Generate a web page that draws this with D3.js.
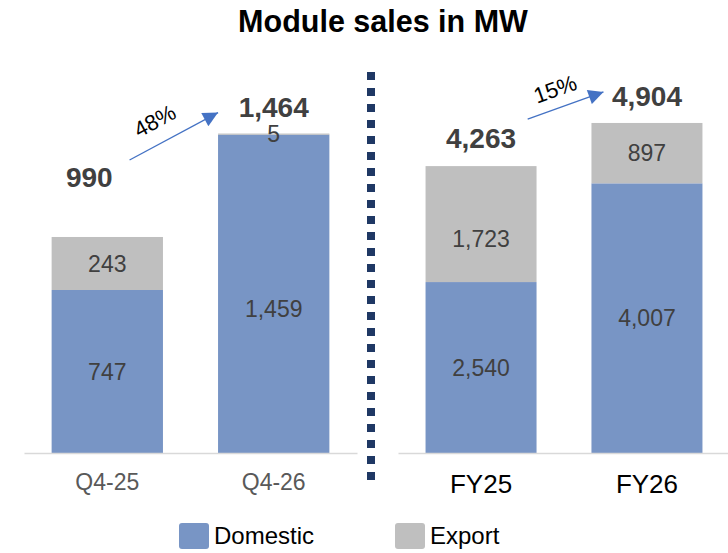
<!DOCTYPE html>
<html>
<head>
<meta charset="utf-8">
<script src="https://cdn.jsdelivr.net/npm/d3@7"></script>
<style>
  body { margin: 0; background: #fff; }
  svg { display: block; font-family: "Liberation Sans", Arial, sans-serif; }
</style>
</head>
<body>
<svg id="chart" width="728" height="553"></svg>
<script>
// data
var quarters = ['Q4-25', 'Q4-26'];
var quarterDomestic = [747, 1459];
var quarterExport = [243, 5];
var years = ['FY25', 'FY26'];
var yearDomestic = [2540, 4007];
var yearExport = [1723, 897];
var series = ['Domestic', 'Export'];
var growthLabels = ['48%', '15%'];

var colors = { Domestic: '#7895c5', Export: '#bfbfbf' };
var fmt = d3.format(',');

var svg = d3.select('#chart');
var baseY = 453;

svg.append('text')
    .attr('x', 383).attr('y', 32)
    .attr('text-anchor', 'middle')
    .attr('font-size', 30.5).attr('font-weight', 'bold')
    .attr('fill', '#000')
    .text('Module sales in MW');

// draws one panel of stacked bars
// nudge = { dom: [...], exp: [...], tot: [[dx,dy],...] } label shifts in px
function panel(cats, dom, exp, xRange, yMax, yTop, axisStyle, nudge) {
    var x = d3.scaleBand().domain(cats).range(xRange)
        .paddingInner(0.331).paddingOuter(0.166);
    var y = d3.scaleLinear().domain([0, yMax]).range([baseY, yTop]);

    var rows = cats.map(function(c, i) {
        return { cat: c, dom: dom[i], exp: exp[i], total: dom[i] + exp[i] };
    });

    var g = svg.append('g');

    // domestic
    g.selectAll('rect.dom').data(rows).enter().append('rect')
        .attr('class', 'dom')
        .attr('x', function(d) { return x(d.cat); })
        .attr('width', x.bandwidth())
        .attr('y', function(d) { return y(d.dom); })
        .attr('height', function(d) { return y(0) - y(d.dom); })
        .attr('fill', colors.Domestic);

    // export
    g.selectAll('rect.exp').data(rows).enter().append('rect')
        .attr('class', 'exp')
        .attr('x', function(d) { return x(d.cat); })
        .attr('width', x.bandwidth())
        .attr('y', function(d) { return y(d.total); })
        .attr('height', function(d) { return Math.max(1.2, y(d.dom) - y(d.total)); })
        .attr('fill', colors.Export);

    // segment labels
    g.selectAll('text.domlab').data(rows).enter().append('text')
        .attr('x', function(d) { return x(d.cat) + x.bandwidth() / 2; })
        .attr('y', function(d, i) { return (y(0) + y(d.dom)) / 2 + nudge.dom[i]; })
        .attr('dy', '0.35em')
        .attr('text-anchor', 'middle')
        .attr('font-size', 23).attr('fill', '#404040')
        .text(function(d) { return fmt(d.dom); });

    g.selectAll('text.explab').data(rows).enter().append('text')
        .attr('x', function(d) { return x(d.cat) + x.bandwidth() / 2; })
        .attr('y', function(d, i) { return (y(d.dom) + y(d.total)) / 2 + nudge.exp[i]; })
        .attr('dy', '0.35em')
        .attr('text-anchor', 'middle')
        .attr('font-size', 23).attr('fill', '#404040')
        .text(function(d) { return fmt(d.exp); });

    // totals
    g.selectAll('text.tot').data(rows).enter().append('text')
        .attr('x', function(d, i) { return x(d.cat) + x.bandwidth() / 2 + nudge.tot[i][0]; })
        .attr('y', function(d, i) { return y(d.total) - 17 + nudge.tot[i][1]; })
        .attr('text-anchor', 'middle')
        .attr('font-size', 28).attr('font-weight', 'bold').attr('fill', '#404040')
        .text(function(d) { return fmt(d.total); });

    // axis
    var ax = g.append('g')
        .attr('transform', 'translate(0,' + baseY + ')')
        .call(d3.axisBottom(x).tickSize(0).tickSizeOuter(0).tickPadding(axisStyle.pad));
    ax.select('.domain').attr('stroke', '#d9d9d9').attr('stroke-width', 1.5);
    ax.selectAll('text')
        .attr('font-size', axisStyle.size)
        .attr('fill', axisStyle.color)
        .attr('font-family', '"Liberation Sans", Arial, sans-serif');

    return { x: x, y: y, rows: rows };
}

var left = panel(quarters, quarterDomestic, quarterExport, [24, 357], 1500, 453 - 327.3,
    { size: 23, color: '#595959', pad: 20.5 },
    { dom: [0, 15], exp: [0, 0], tot: [[-18, -33], [0, 0]] });
var right = panel(years, yearDomestic, yearExport, [398, 730], 5000, 453 - 336.5,
    { size: 26, color: '#000', pad: 21.5 },
    { dom: [0, 0], exp: [15, 0], tot: [[0, -1], [0, 0]] });

// growth arrows
var defs = svg.append('defs');
defs.append('marker')
    .attr('id', 'head')
    .attr('viewBox', '0 0 10 10')
    .attr('refX', 10).attr('refY', 5)
    .attr('markerWidth', 17).attr('markerHeight', 15)
    .attr('markerUnits', 'userSpaceOnUse')
    .attr('orient', 'auto')
    .append('path').attr('d', 'M0,0L10,5L0,10Z').attr('fill', '#4472c4');

function arrow(i, x1, y1, x2, y2, tx, ty) {
    svg.append('line')
        .attr('x1', x1).attr('y1', y1).attr('x2', x2).attr('y2', y2)
        .attr('stroke', '#4472c4').attr('stroke-width', 1.3)
        .attr('marker-end', 'url(#head)');
    var ang = Math.atan2(y2 - y1, x2 - x1) * 180 / Math.PI;
    var mx = (x1 + x2) / 2 + tx, my = (y1 + y2) / 2 + ty;
    svg.append('text')
        .attr('transform', 'translate(' + mx + ',' + my + ') rotate(' + ang + ')')
        .attr('text-anchor', 'middle').attr('dy', '0.35em')
        .attr('font-size', 22).attr('fill', '#000')
        .text(growthLabels[i]);
}

var lx = left.x, ly = left.y, bw = lx.bandwidth();
arrow(0,
    lx(quarters[0]) + bw * 0.7, ly(left.rows[0].total) - 77,
    lx(quarters[1]), ly(left.rows[1].total) - 21, -19, -15.5);
var rx = right.x, ry = right.y;
arrow(1,
    rx(years[0]) + rx.bandwidth() * 0.92, ry(right.rows[0].total) - 47,
    rx(years[1]) + 12, ry(right.rows[1].total) - 31, -10.5, -16.5);

// dotted separator
svg.append('line')
    .attr('x1', 371).attr('x2', 371)
    .attr('y1', 72).attr('y2', 480)
    .attr('stroke', '#1f3864').attr('stroke-width', 8)
    .attr('stroke-dasharray', '8,8');

// legend
var legX = [179, 395];
var leg = svg.selectAll('g.leg').data(series).enter().append('g')
    .attr('transform', function(d, i) { return 'translate(' + legX[i] + ',523)'; });
leg.append('rect')
    .attr('width', 30).attr('height', 26).attr('rx', 3)
    .attr('fill', function(d) { return colors[d]; });
leg.append('text')
    .attr('x', 35).attr('y', 21)
    .attr('font-size', 24).attr('fill', '#000')
    .text(function(d) { return d; });
</script>
</body>
</html>
